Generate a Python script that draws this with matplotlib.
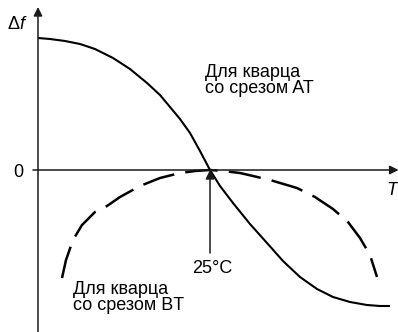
import matplotlib
matplotlib.use("Agg")
import matplotlib.pyplot as plt

plt.rcParams['font.family'] = ['Liberation Sans', 'DejaVu Sans']
plt.rcParams['mathtext.fontset'] = 'custom'
plt.rcParams['mathtext.rm'] = 'Liberation Sans'
plt.rcParams['mathtext.it'] = 'Liberation Sans:italic'

# AT-cut curve (temperature, frequency deviation)
at_T = [-61, -55, -47.5, -40, -32.5, -23.5, -15, -6.5, 0, 5, 10, 15, 20, 25,
        30, 36.5, 45, 53.5, 61.5, 70, 78.5, 86.5, 95, 103.5, 110, 115]
at_df = [13.2, 13.1, 12.9, 12.6, 12.1, 11.2, 10.1, 8.7, 7.5, 6.3, 5.1, 3.7, 1.9, 0,
         -1.6, -3.3, -5.4, -7.3, -9.1, -10.7, -11.9, -12.7, -13.2, -13.5, -13.6, -13.6]

# BT-cut curve
bt_T = [-49, -47, -43.5, -39, -32.5, -26.5, -20, -10, 0, 10, 17.5, 25,
        31.5, 40, 46.5, 55, 68.5, 77.5, 86.5, 94, 100, 105, 108.5]
bt_df = [-10.8, -9.0, -7.0, -5.5, -4.2, -3.6, -2.7, -1.6, -0.8, -0.3, -0.1, 0,
         -0.1, -0.3, -0.6, -1.0, -1.8, -2.7, -3.9, -5.2, -6.8, -8.5, -10.7]

turnover_T = 25
label_at = "Для кварца\nсо срезом AT"
label_bt = "Для кварца\nсо срезом BT"
label_turn = "25°C"

fig = plt.figure(figsize=(3.98, 3.32), dpi=100)
ax = fig.add_axes([0, 0, 1, 1])
ax.set_xlim(-80, 119)
ax.set_ylim(-16.2, 17)
ax.axis('off')

axis_color = '#1a1a1a'
arrow_kw = dict(arrowstyle='-|>', color=axis_color, lw=1.1,
                mutation_scale=13, shrinkA=0, shrinkB=0)
# Axes with arrows
ax.annotate('', xy=(-61, 16.3), xytext=(-61, -16.2),
            arrowprops=arrow_kw, annotation_clip=False)
ax.annotate('', xy=(119.3, 0), xytext=(-63.5, 0),
            arrowprops=arrow_kw, annotation_clip=False)

# Curves
ax.plot(at_T, at_df, color='black', lw=1.5, solid_capstyle='butt')
ax.plot(bt_T, bt_df, color='black', lw=1.8, dashes=(13, 4.5), dash_capstyle='butt')

# Turnover arrow
ax.annotate('', xy=(turnover_T, 0), xytext=(turnover_T, -8.3),
            arrowprops=arrow_kw, annotation_clip=False)

fs = 13
ax.text(26, -10.3, label_turn, fontsize=fs, ha='center', va='baseline')
ax.text(22.5, 7.7, label_at, fontsize=fs, ha='left', va='baseline', linespacing=0.95)
ax.text(-43.5, -14.0, label_bt, fontsize=fs, ha='left', va='baseline', linespacing=0.95)
ax.text(-71, 0, '0', fontsize=fs, ha='center', va='center_baseline')
ax.text(-71.5, 14.1, r'$\Delta f$', fontsize=fs, ha='center', va='baseline')
ax.text(116, -2.5, 'T', fontsize=fs, ha='center', va='baseline', style='italic')

fig.savefig('out.png', dpi=100)
